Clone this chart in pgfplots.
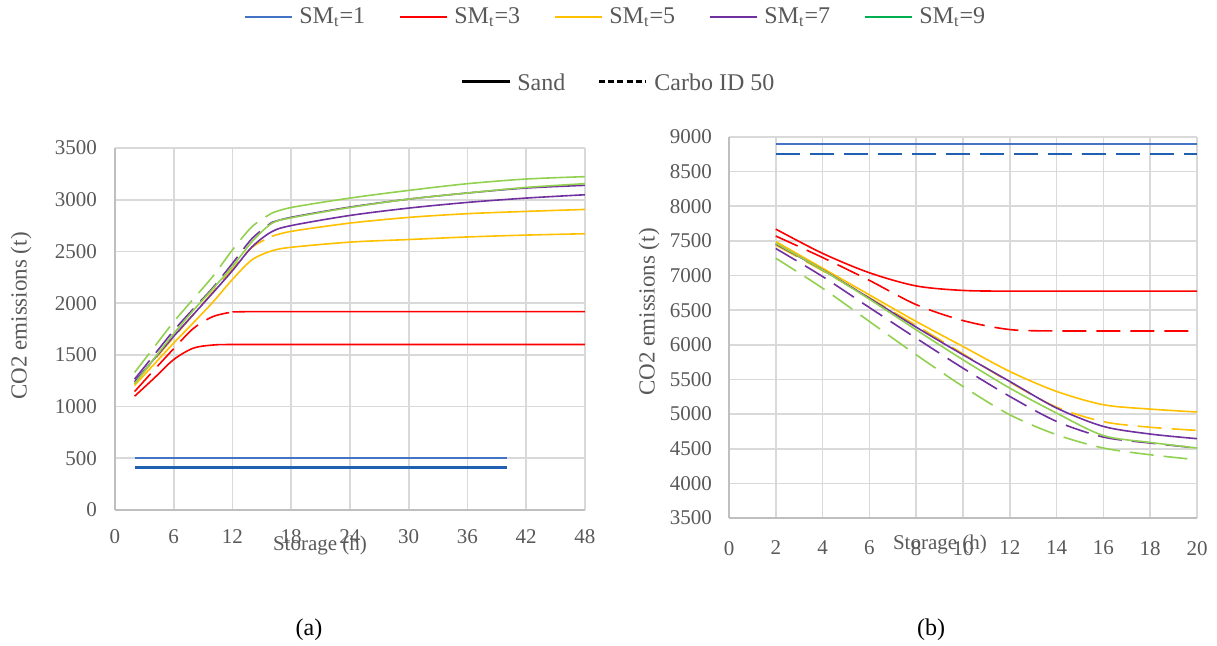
\documentclass[border=0pt]{standalone}
\usepackage{fontspec}
\setmainfont{Liberation Serif}
\usepackage{pgfplots}
\pgfplotsset{compat=1.18}

\definecolor{smblue}{RGB}{68,114,196}
\definecolor{smbluedk}{RGB}{31,96,178}
\definecolor{smred}{RGB}{255,0,0}
\definecolor{smyellow}{RGB}{255,192,0}
\definecolor{smpurple}{RGB}{112,48,160}
\definecolor{smgreen}{RGB}{0,176,80}
\definecolor{smgreenlt}{RGB}{146,208,80}
\definecolor{gridgray}{RGB}{217,217,217}
\definecolor{axgray}{RGB}{191,191,191}
\definecolor{txtgray}{RGB}{89,89,89}

\pgfplotsset{
  excel/.style={
    scale only axis,
    axis lines=left,
    axis line style={draw=axgray, line width=0.9pt, -},
    grid=major,
    grid style={draw=gridgray, line width=0.8pt},
    major tick length=0pt,
    tick label style={font=\fontsize{10.5}{12}\selectfont, text=txtgray},
    /pgf/number format/assume math mode=true,
    /pgf/number format/set thousands separator={},
  },
  sand/.style={line width=0.8pt, smooth},
  carbo/.style={line width=0.8pt, smooth, dash pattern=on 12pt off 5pt},
}

\begin{document}
\begin{tikzpicture}
\useasboundingbox (0,0) rectangle (608.5pt,-323pt);

% ---- legend ----
\foreach \i/\c/\n in {0/smblue/1,1/smred/3,2/smyellow/5,3/smpurple/7,4/smgreen/9} {
  \draw[\c, line width=1pt] (122.5pt+77.5pt*\i,-8.5pt) -- (146pt+77.5pt*\i,-8.5pt);
  \node[anchor=west, inner sep=0pt, text=txtgray, font=\fontsize{12}{14}\selectfont]
    at (149.5pt+77.5pt*\i,-8.5pt) {SM\textsubscript{t}=\n};
}
\draw[black, line width=1.5pt] (231pt,-41pt) -- (255pt,-41pt);
\node[anchor=west, inner sep=0pt, text=txtgray, font=\fontsize{12}{14}\selectfont] at (258.5pt,-41pt) {Sand};
\draw[black, line width=1.5pt, dash pattern=on 3pt off 1.6pt] (299.5pt,-41pt) -- (323pt,-41pt);
\node[anchor=west, inner sep=0pt, text=txtgray, font=\fontsize{12}{14}\selectfont] at (327pt,-41pt) {Carbo ID 50};

% ---- (a) ----
\begin{axis}[excel,
  at={(57.5pt,-255pt)}, anchor=south west,
  width=235pt, height=181pt,
  xmin=0, xmax=48, ymin=0, ymax=3500,
  xtick={0,6,...,48}, ytick={0,500,...,3500},
  xticklabel style={yshift=-6.4pt},
  yticklabel style={xshift=-5.5pt},
]
\addplot[smblue, sand] coordinates {(2,500)(40,500)};
\addplot[smbluedk, sand, line width=1.1pt] coordinates {(2,410)(40,410)};
% SMt=3
\addplot[smred, sand] coordinates {(2,1100)(4,1275)(6,1455)(8,1565)(10,1595)(12,1600)(18,1600)(24,1600)(30,1600)(36,1600)(42,1600)(48,1600)};
\addplot[smred, carbo] coordinates {(2,1145)(4,1355)(6,1560)(8,1755)(10,1870)(12,1915)};
\addplot[smred, sand] coordinates {(12,1915)(14,1918)(18,1918)(24,1918)(30,1918)(36,1918)(42,1918)(48,1918)};
% SMt=5
\addplot[smyellow, sand] coordinates {(2,1205)(4,1410)(6,1615)(8,1810)(10,2010)(12,2230)(14,2420)(16,2505)(18,2540)(24,2590)(30,2615)(36,2640)(42,2658)(48,2671)};
\addplot[smyellow, carbo] coordinates {(2,1225)(4,1450)(6,1670)(8,1890)(10,2110)(12,2330)(14,2540)(16,2645)};
\addplot[smyellow, sand] coordinates {(16,2645)(18,2694)(24,2774)(30,2829)(36,2865)(42,2887)(48,2906)};
% SMt=7
\addplot[smpurple, sand] coordinates {(2,1240)(4,1460)(6,1680)(8,1890)(10,2100)(12,2315)(14,2545)(16,2690)(18,2750)(24,2848)(30,2919)(36,2974)(42,3016)(48,3048)};
\addplot[smpurple, carbo] coordinates {(2,1265)(4,1500)(6,1735)(8,1945)(10,2150)(12,2385)(14,2625)(16,2780)};
\addplot[smpurple, sand] coordinates {(16,2780)(18,2830)(24,2929)(30,3006)(36,3065)(42,3113)(48,3139)};
% SMt=9
\addplot[smgreenlt, sand] coordinates {(2,1220)(4,1465)(6,1705)(8,1930)(10,2140)(12,2355)(14,2595)(16,2770)(18,2825)(24,2925)(30,3006)(36,3065)(42,3119)(48,3155)};
\addplot[smgreenlt, carbo] coordinates {(2,1330)(4,1575)(6,1820)(8,2040)(10,2260)(12,2515)(14,2740)(16,2870)};
\addplot[smgreenlt, sand] coordinates {(16,2870)(18,2925)(24,3016)(30,3090)(36,3155)(42,3200)(48,3223)};
\end{axis}

% ---- (b) ----
\begin{axis}[excel,
  at={(364.5pt,-259pt)}, anchor=south west,
  width=234pt, height=190.5pt,
  xmin=0, xmax=20, ymin=3500, ymax=9000,
  xtick={0,2,...,20}, ytick={3500,4000,...,9000},
  xticklabel style={yshift=-8pt},
  yticklabel style={xshift=-5pt},
]
\addplot[smblue, sand] coordinates {(2,8900)(20,8900)};
\addplot[smbluedk, carbo] coordinates {(2,8757)(20,8757)};
\addplot[smred, sand] coordinates {(2,7670)(4,7320)(6,7040)(8,6850)(10,6785)(12,6775)(14,6775)(16,6775)(18,6775)(20,6775)};
\addplot[smred, carbo] coordinates {(2,7570)(4,7260)(6,6930)(8,6580)(10,6350)(12,6220)(14,6200)(16,6200)(18,6200)(20,6200)};
\addplot[smyellow, sand] coordinates {(2,7490)(4,7106)(6,6721)(8,6337)(10,5976)(12,5615)(14,5327)(16,5135)(18,5072)(20,5030)};
\addplot[smyellow, carbo] coordinates {(2,7440)(4,7070)(6,6680)(8,6280)(10,5870)(12,5460)(14,5100)(16,4890)(18,4810)(20,4765)};
\addplot[smpurple, sand] coordinates {(2,7455)(4,7082)(6,6673)(8,6255)(10,5856)(12,5471)(14,5087)(16,4822)(18,4712)(20,4645)};
\addplot[smpurple, carbo] coordinates {(2,7390)(4,6986)(6,6538)(8,6096)(10,5663)(12,5255)(14,4894)(16,4668)(18,4582)(20,4510)};
\addplot[smgreenlt, sand] coordinates {(2,7465)(4,7080)(6,6659)(8,6216)(10,5784)(12,5375)(14,5014)(16,4690)(18,4591)(20,4510)};
\addplot[smgreenlt, carbo] coordinates {(2,7250)(4,6817)(6,6337)(8,5856)(10,5399)(12,4990)(14,4702)(16,4510)(18,4413)(20,4341)};
\end{axis}

% ---- axis titles and captions ----
\node[rotate=90, text=txtgray, font=\fontsize{11.5}{13}\selectfont] at (10.5pt,-158pt) {CO2 emissions (t)};
\node[rotate=90, text=txtgray, font=\fontsize{11.5}{13}\selectfont] at (324.5pt,-156pt) {CO2 emissions (t)};
\node[text=txtgray, font=\fontsize{10.5}{12}\selectfont] at (160pt,-272.5pt) {Storage (h)};
\node[text=txtgray, font=\fontsize{10.5}{12}\selectfont] at (470pt,-272pt) {Storage (h)};
\node[font=\fontsize{12}{14}\selectfont] at (154.5pt,-315pt) {(a)};
\node[font=\fontsize{12}{14}\selectfont] at (465.5pt,-315pt) {(b)};
\end{tikzpicture}
\end{document}
